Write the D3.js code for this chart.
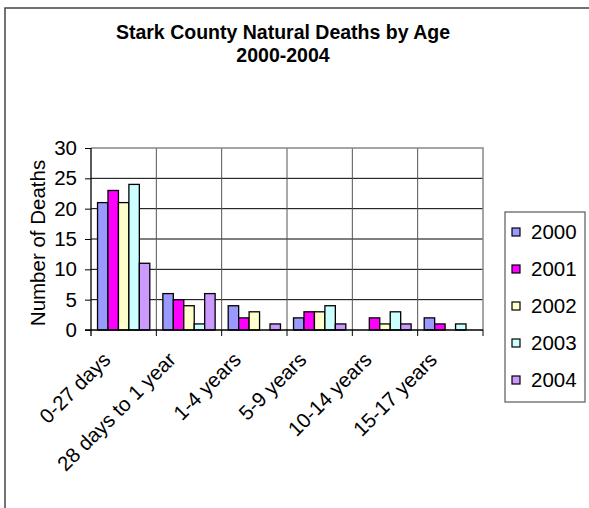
<!DOCTYPE html>
<html><head><meta charset="utf-8">
<script src="https://cdn.jsdelivr.net/npm/d3@7"></script>
<style>body{margin:0;background:#fff}svg{display:block;font-family:Arial,"Liberation Sans",sans-serif}</style>
</head><body><svg id="c" width="589" height="508"></svg>
<script>
const categories = ["0-27 days","28 days to 1 year","1-4 years","5-9 years","10-14 years","15-17 years"];
const years = ["2000","2001","2002","2003","2004"];
const v2000 = [21,6,4,2,0,2];
const v2001 = [23,5,2,3,2,1];
const v2002 = [21,4,3,3,1,0];
const v2003 = [24,1,0,4,3,1];
const v2004 = [11,6,1,1,1,0];
const yTicks = [0,5,10,15,20,25,30];
const colors = ["#9999FF","#FF00FF","#FFFFCC","#CCFFFF","#CC99FF"];
const series = [v2000,v2001,v2002,v2003,v2004];

const svg = d3.select("#c");
const L=91, R=483, T=148, B=330;
const FS = 20.5;
// outer border
svg.append("rect").attr("x",5).attr("y",8).attr("width",600).attr("height",520)
  .attr("fill","none").attr("stroke","#444").attr("stroke-width",1.5);

svg.append("text").attr("x",283).attr("y",39).attr("text-anchor","middle")
  .attr("font-size",19.5).attr("font-weight","bold").text("Stark County Natural Deaths by Age");
svg.append("text").attr("x",283).attr("y",62).attr("text-anchor","middle")
  .attr("font-size",19.5).attr("font-weight","bold").text("2000-2004");

const x = d3.scaleBand().domain(categories).range([L,R]).paddingInner(0).paddingOuter(0);
const x1 = d3.scaleBand().domain(years).range([0,x.bandwidth()]).paddingInner(0).paddingOuter(0.625);
const y = d3.scaleLinear().domain([0,30]).range([B,T]);

// gridlines
svg.append("g").selectAll("line").data(yTicks.filter(d=>d>0&&d<30)).join("line")
  .attr("x1",L).attr("x2",R).attr("y1",d=>y(d)).attr("y2",d=>y(d)).attr("stroke","#000").attr("stroke-width",1);
svg.append("g").selectAll("line").data(categories.slice(1)).join("line")
  .attr("x1",d=>x(d)).attr("x2",d=>x(d)).attr("y1",T).attr("y2",B).attr("stroke","#555").attr("stroke-width",1);
// plot border top/right
svg.append("path").attr("d",`M${L},${T}H${R}V${B}`).attr("fill","none").attr("stroke","#888").attr("stroke-width",1.5);

// bars
series.forEach((s,i)=>{
  svg.append("g").selectAll("rect").data(s.map((v,j)=>({v,c:categories[j]}))).join("rect")
    .filter(d=>d.v>0)
    .attr("x",d=>x(d.c)+x1(years[i])).attr("width",x1.bandwidth())
    .attr("y",d=>y(d.v)).attr("height",d=>B-y(d.v))
    .attr("fill",colors[i]).attr("stroke","#000").attr("stroke-width",1.3);
});

// y axis
const ya = d3.axisLeft(y).tickValues(yTicks).tickSize(6).tickPadding(8);
const gy = svg.append("g").attr("transform",`translate(${L},0)`).call(ya);
gy.select(".domain").attr("stroke","#000").attr("stroke-width",1.3).attr("d",`M0,${T}V${B+6}`);
gy.selectAll("text").attr("font-size",FS).attr("font-family","Arial, Liberation Sans, sans-serif").attr("fill","#000");

// x axis
const gx = svg.append("g");
gx.append("line").attr("x1",L-6).attr("x2",R).attr("y1",B).attr("y2",B).attr("stroke","#000").attr("stroke-width",1.3);
gx.selectAll("line.t").data(categories.slice(1).concat(["end"])).join("line").attr("class","t")
  .attr("x1",d=>d==="end"?R:x(d)).attr("x2",d=>d==="end"?R:x(d)).attr("y1",B).attr("y2",B+6).attr("stroke","#000");
gx.selectAll("text").data(categories).join("text")
  .attr("transform",d=>`translate(${x(d)+x.bandwidth()/2-12},${B+31}) rotate(-45)`)
  .attr("text-anchor","end").attr("font-size",FS).text(d=>d);

svg.append("text").attr("transform",`translate(45,${(T+B)/2 + 4}) rotate(-90)`)
  .attr("text-anchor","middle").attr("font-size",FS).text("Number of Deaths");

// legend
const lg = svg.append("g");
lg.append("rect").attr("x",505).attr("y",212).attr("width",80).attr("height",190)
  .attr("fill","#fff").attr("stroke","#666").attr("stroke-width",1.3);
years.forEach((yr,i)=>{
  const cy = 232 + i*37;
  lg.append("rect").attr("x",512).attr("y",cy-4).attr("width",8).attr("height",8)
    .attr("fill",colors[i]).attr("stroke","#000").attr("stroke-width",1.2);
  lg.append("text").attr("x",531).attr("y",cy).attr("dy","0.36em").attr("font-size",FS).text(yr);
});
</script></body></html>
